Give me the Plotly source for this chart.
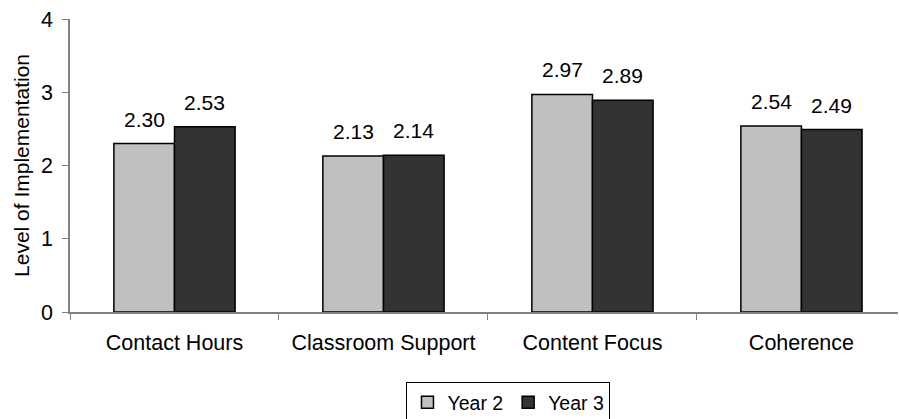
import plotly.graph_objects as go

categories = ["Contact Hours", "Classroom Support", "Content Focus", "Coherence"]
year2 = [2.30, 2.13, 2.97, 2.54]
year3 = [2.53, 2.14, 2.89, 2.49]
series_names = ["Year 2", "Year 3"]
colors = ["#C0C0C0", "#333333"]
y_ticks = [0, 1, 2, 3, 4]

FONT = "Liberation Sans, Arial, sans-serif"
FS = 21.5

fig = go.Figure()
for name, vals, col in zip(series_names, [year2, year3], colors):
    fig.add_trace(go.Bar(
        name=name, x=categories, y=vals,
        marker=dict(color=col, line=dict(color="#000000", width=1.5)),
        hoverinfo="skip",
    ))

# value labels via annotations placed at bar tops
bar_w = 0.29
for i, vals in enumerate([year2, year3]):
    off = (-0.5 + i) * bar_w
    for j, v in enumerate(vals):
        fig.add_annotation(
            x=j + off, y=v, xref="x", yref="y",
            text=f"{v:.2f}", showarrow=False,
            yanchor="bottom", yshift=11,
            font=dict(family=FONT, size=21, color="#000000"),
        )

fig.update_layout(
    width=899, height=419,
    margin=dict(l=70, r=1, t=19, b=107),
    plot_bgcolor="white", paper_bgcolor="white",
    barmode="group", bargap=0.42, bargroupgap=0,
    font=dict(family=FONT, size=FS, color="#000000"),
    showlegend=True,
    legend=dict(
        orientation="h", xref="container", yref="container",
        x=0.5656, xanchor="center", y=0.088, yanchor="top",
        bordercolor="#000000", borderwidth=1, bgcolor="white",
        font=dict(family=FONT, size=19.5, color="#000000"),
        itemwidth=30, tracegroupgap=0,
    ),
)
fig.update_xaxes(
    type="category", range=[-0.5, 3.462], automargin=False,
    showline=True, linecolor="#808080", linewidth=1.5,
    ticks="outside", tickson="boundaries", ticklen=6, tickcolor="#808080",
    showgrid=False, ticklabelstandoff=10,
    tickfont=dict(family=FONT, size=FS, color="#000000"),
)
fig.update_yaxes(
    range=[0, 4], tickvals=y_ticks, ticktext=[str(t) for t in y_ticks],
    automargin=False,
    showline=True, linecolor="#808080", linewidth=1.5,
    ticks="outside", ticklen=6, tickcolor="#808080",
    showgrid=False, zeroline=False, ticklabelstandoff=5,
    tickfont=dict(family=FONT, size=FS, color="#000000"),
    title=dict(text="Level of Implementation", standoff=6,
               font=dict(family=FONT, size=21, color="#000000")),
)

fig.write_html(
    "out.html",
    config={"displayModeBar": False},
    post_script="document.body.style.margin='0';document.body.style.overflow='hidden';",
)
